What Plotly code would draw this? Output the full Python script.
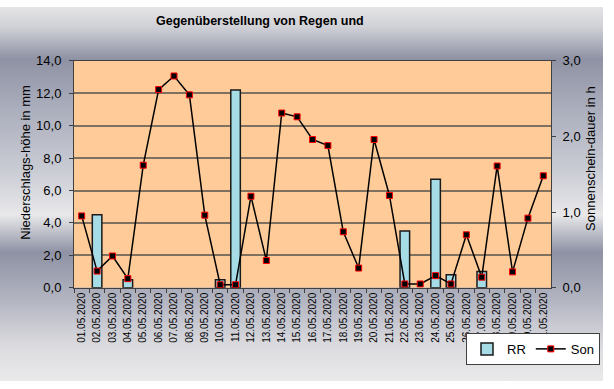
import plotly.graph_objects as go

dates = [f"{d:02d}.05.2020" for d in range(1, 32)]
rr_mm = [None, 4.5, None, 0.5, None, None, None, None, None, 0.5, 12.2, None, None, None, None, None,
         None, None, None, None, None, 3.5, None, 6.7, 0.8, None, 1.0, None, None, None, None]
son_h = [0.95, 0.22, 0.42, 0.12, 1.62, 2.62, 2.80, 2.55, 0.96, 0.04, 0.04, 1.21, 0.36, 2.31, 2.26, 1.96,
         1.88, 0.74, 0.26, 1.96, 1.22, 0.05, 0.05, 0.16, 0.05, 0.70, 0.14, 1.61, 0.21, 0.92, 1.48]

W, H = 614, 389
PL, PR, PT, PB = 74, 551, 56, 292
FONT = "Liberation Sans, Arial, sans-serif"

# background gradient stops: (pixel from top, color); colorscale 0 = bottom of figure
grad = [(0, "#e4e4e6"), (20, "#d0d1d7"), (52, "#8e92a4"), (100, "#aaadbb"), (160, "#c8cad3"),
        (208, "#e8e8ea"), (245, "#8e92a4"), (295, "#b4b6c2"), (340, "#dcdce0"), (389, "#f0f0f0")]
cs = sorted([[1 - y / H, c] for y, c in grad], key=lambda t: t[0])

fig = go.Figure()
fig.add_trace(go.Scatter(x=[0, 603, 603, 0, 0], y=[0, 0, H, H, 0], mode="lines", fill="toself",
                         line=dict(width=0), fillgradient=dict(type="vertical", colorscale=cs, start=0, stop=H),
                         xaxis="x", yaxis="y", hoverinfo="skip", showlegend=False))

fig.add_trace(go.Bar(x=dates, y=rr_mm, name="RR", xaxis="x2", yaxis="y2", width=0.62,
                     marker=dict(color="#a6dce6", line=dict(color="#1a1a1a", width=1.5))))
fig.add_trace(go.Scatter(x=dates, y=son_h, name="Son", xaxis="x2", yaxis="y3", mode="lines+markers",
                         line=dict(color="black", width=1.5),
                         marker=dict(symbol="square", size=6, color="black", line=dict(color="#ff0000", width=1))))

axcol = "#404040"
fig.update_layout(
    width=W, height=H, margin=dict(l=0, r=0, t=0, b=0),
    paper_bgcolor="white", plot_bgcolor="rgba(0,0,0,0)",
    separators=",.",
    font=dict(family=FONT, size=13, color="black"),
    xaxis=dict(domain=[0, 1], range=[0, W], visible=False, fixedrange=True),
    yaxis=dict(domain=[0, 1], range=[0, H], visible=False, fixedrange=True),
    xaxis2=dict(domain=[PL / W, PR / W], anchor="y2", type="category", range=[-0.5, 30.5],
                tickson="boundaries", ticks="outside", ticklen=4, tickcolor=axcol,
                showline=True, linecolor=axcol, linewidth=1, mirror=True, showgrid=False,
                tickangle=-90, tickfont=dict(size=10)),
    yaxis2=dict(domain=[1 - PB / H, 1 - PT / H], anchor="x2", range=[0, 14], dtick=2, tickformat=".1f",
                ticks="outside", ticklen=4, tickcolor=axcol, showline=True, linecolor=axcol, linewidth=1,
                showgrid=True, gridcolor="#80705f", gridwidth=1.6, zeroline=False, tickfont=dict(size=13),
                ticklabelstandoff=5),
    yaxis3=dict(overlaying="y2", anchor="x2", side="right", range=[0, 3], dtick=1, tickformat=".1f",
                ticks="outside", ticklen=4, tickcolor=axcol, showline=True, linecolor=axcol, linewidth=1,
                showgrid=False, zeroline=False, tickfont=dict(size=13), ticklabelstandoff=4),
    showlegend=True,
    legend=dict(orientation="h", x=466 / W, y=1 - 339 / H, xanchor="left", yanchor="top",
                bgcolor="white", bordercolor=axcol, borderwidth=1, font=dict(size=13),
                itemwidth=30, tracegroupgap=0),
    shapes=[dict(type="rect", xref="x2", yref="y2", x0=-0.5, x1=30.5, y0=0, y1=14, layer="below",
                 fillcolor="#FFCC99", line=dict(width=0))],
    annotations=[
        dict(text="<b>Gegenüberstellung von Regen und</b>", xref="paper", yref="paper",
             x=260 / W, y=1 - 15 / H, showarrow=False, font=dict(size=12.5), xanchor="center", yanchor="middle"),
        dict(text="Niederschlags-höhe in mm", xref="paper", yref="paper", x=26 / W, y=1 - 162 / H,
             showarrow=False, textangle=-90, xanchor="center", yanchor="middle", font=dict(size=13)),
        dict(text="Sonnenschein-dauer in h", xref="paper", yref="paper", x=591 / W, y=1 - 158 / H,
             showarrow=False, textangle=-90, xanchor="center", yanchor="middle", font=dict(size=13)),
    ],
)

fig.write_html("out.html", config={"displayModeBar": False},
               post_script="document.body.style.margin='0';document.body.style.padding='0';")
